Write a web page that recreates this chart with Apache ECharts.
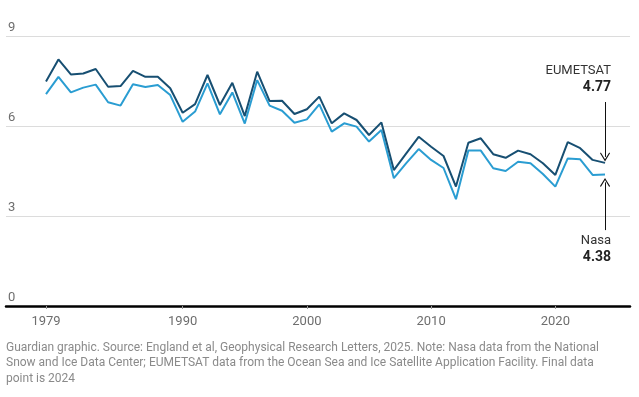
<!DOCTYPE html>
<html>
<head>
<meta charset="utf-8">
<script src="https://cdn.jsdelivr.net/npm/echarts@6/dist/echarts.min.js"></script>
<style>
html,body{margin:0;padding:0;background:#fff;}
#chart{width:639px;height:397px;}
</style>
</head>
<body>
<div id="chart"></div>
<script>
const years = [];
for (let y = 1979; y <= 2024; y++) years.push(y);
const eumetsat = [7.48, 8.22, 7.72, 7.75, 7.9, 7.31, 7.33, 7.84, 7.64, 7.64,
  7.26, 6.44, 6.73, 7.7, 6.7, 7.44, 6.33, 7.81, 6.83, 6.84,
  6.4, 6.56, 6.98, 6.09, 6.42, 6.2, 5.7, 6.12, 4.53, 5.09,
  5.64, 5.31, 5.0, 3.98, 5.44, 5.59, 5.06, 4.94, 5.18, 5.06,
  4.76, 4.37, 5.46, 5.26, 4.87, 4.77];
const nasa = [7.06, 7.64, 7.12, 7.28, 7.38, 6.79, 6.68, 7.39, 7.3, 7.37,
  7.03, 6.14, 6.48, 7.42, 6.39, 7.12, 6.08, 7.53, 6.68, 6.51,
  6.11, 6.22, 6.72, 5.81, 6.09, 5.98, 5.48, 5.87, 4.26, 4.76,
  5.23, 4.87, 4.6, 3.56, 5.18, 5.18, 4.59, 4.5, 4.81, 4.76,
  4.4, 3.98, 4.92, 4.89, 4.37, 4.38];
const xTickLabels = [1979, 1990, 2000, 2010, 2020];
const yTicks = [0, 3, 6, 9];
const seriesNames = ['EUMETSAT', 'Nasa'];
const finalValues = ['4.77', '4.38'];
const footnote = 'Guardian graphic. Source: England et al, Geophysical Research Letters, 2025. Note: Nasa data from the National\nSnow and Ice Data Center; EUMETSAT data from the Ocean Sea and Ice Satellite Application Facility. Final data\npoint is 2024';

const FONT = 'Roboto';
const chevron = 'path://M0,0 L5,7 L4.2,7.8 L0,1.9 L-4.2,7.8 L-5,7 Z';

const chart = echarts.init(document.getElementById('chart'), null, {renderer: 'canvas'});
const lastYear = years[years.length - 1];
chart.setOption({
  animation: false,
  backgroundColor: '#ffffff',
  grid: {left: 6, right: 9, top: 36, bottom: 91, containLabel: false},
  xAxis: {
    type: 'value',
    min: 1975.78,
    max: 2026.01,
    axisLine: {show: true, lineStyle: {color: '#000', width: 2.5}},
    axisTick: {show: true, customValues: xTickLabels, length: 3, lineStyle: {color: '#999'}},
    axisLabel: {customValues: xTickLabels, color: '#6e6e6e', fontFamily: FONT, fontSize: 13, margin: 9, formatter: v => String(v)},
    splitLine: {show: false}
  },
  yAxis: {
    type: 'value',
    min: 0, max: 9, interval: 3,
    axisLine: {show: false},
    axisTick: {show: false},
    axisLabel: {align: 'left', verticalAlign: 'bottom', margin: -2, color: '#6e6e6e', fontFamily: FONT, fontSize: 13, padding: [0,0,2,0]},
    splitLine: {lineStyle: {color: '#dcdcdc', width: 1}}
  },
  series: [
    {
      name: seriesNames[0], type: 'line', symbol: 'none',
      data: years.map((y, i) => [y, eumetsat[i]]),
      lineStyle: {color: '#174f72', width: 2},
      z: 3,
      markLine: {
        silent: true, symbol: ['none', chevron], symbolSize: [10, 9],
        label: {show: false},
        lineStyle: {color: '#111', width: 1, type: 'solid'},
        data: [[{coord: [lastYear, 6.8]}, {coord: [lastYear, 4.97]}]]
      }
    },
    {
      name: seriesNames[1], type: 'line', symbol: 'none',
      data: years.map((y, i) => [y, nasa[i]]),
      lineStyle: {color: '#2a9dd2', width: 2},
      z: 2,
      markLine: {
        silent: true, symbol: ['none', chevron], symbolSize: [10, 9],
        label: {show: false},
        lineStyle: {color: '#111', width: 1, type: 'solid'},
        data: [[{coord: [lastYear, 2.53]}, {coord: [lastYear, 4.12]}]]
      }
    }
  ],
  graphic: [
    {type: 'text', right: 28, top: 64, style: {text: seriesNames[0], font: '13px ' + FONT, fill: '#333', textAlign: 'right'}},
    {type: 'text', right: 28, top: 80, style: {text: finalValues[0], font: 'bold 14px ' + FONT, fill: '#222', textAlign: 'right'}},
    {type: 'text', right: 28, top: 234, style: {text: seriesNames[1], font: '13px ' + FONT, fill: '#333', textAlign: 'right'}},
    {type: 'text', right: 28, top: 250, style: {text: finalValues[1], font: 'bold 14px ' + FONT, fill: '#222', textAlign: 'right'}},
    {type: 'text', left: 6, top: 340, style: {text: footnote, font: '12px ' + FONT, fill: '#8a8a8a', lineHeight: 15.5}}
  ]
});
</script>
</body>
</html>
